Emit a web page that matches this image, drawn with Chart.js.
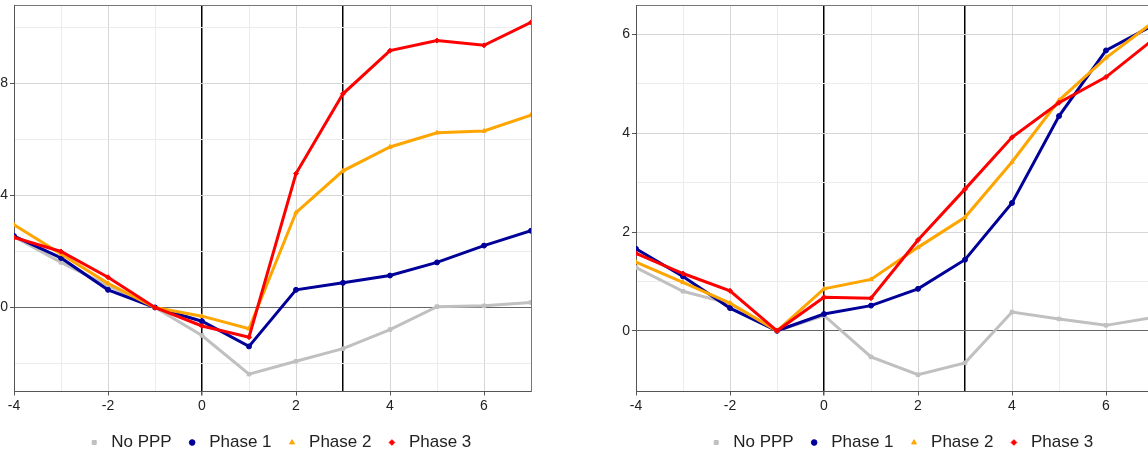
<!DOCTYPE html>
<html>
<head>
<meta charset="utf-8">
<script src="https://cdn.jsdelivr.net/npm/chart.js@4.4.1/dist/chart.umd.min.js"></script>
<style>
  html, body { margin: 0; padding: 0; background: #fff; overflow: hidden; width: 1148px; height: 454px; position: relative; }
  .panel { position: absolute; top: 0; width: 557px; height: 461px; }
  #left { left: 0; }
  #right { left: 622px; }
</style>
</head>
<body>
<div class="panel" id="left"><canvas id="chart-left"></canvas></div>
<div class="panel" id="right"><canvas id="chart-right"></canvas></div>
<script>
(function () {
  'use strict';

  // ============================================================
  //  Data
  // ============================================================
  var weeks = [-4, -3, -2, -1, 0, 1, 2, 3, 4, 5, 6, 7];
  var seriesNames = ['No PPP', 'Phase 1', 'Phase 2', 'Phase 3'];
  var eventWeeks = [0, 3];

  var leftNoPPP  = [2.52, 1.61, 0.78, 0, -1.00, -2.38, -1.92, -1.47, -0.79, 0.03, 0.06, 0.18];
  var leftPhase1 = [2.55, 1.77, 0.63, 0, -0.49, -1.39, 0.63, 0.88, 1.14, 1.61, 2.21, 2.74];
  var leftPhase2 = [2.95, 1.91, 0.86, 0, -0.31, -0.76, 3.39, 4.88, 5.73, 6.24, 6.30, 6.87];
  var leftPhase3 = [2.50, 2.00, 1.08, 0, -0.66, -1.06, 4.78, 7.63, 9.17, 9.53, 9.36, 10.18];

  var rightNoPPP  = [1.28, 0.80, 0.55, 0, 0.31, -0.53, -0.89, -0.65, 0.38, 0.24, 0.11, 0.27];
  var rightPhase1 = [1.66, 1.10, 0.46, 0, 0.34, 0.51, 0.85, 1.44, 2.59, 4.35, 5.68, 6.19];
  var rightPhase2 = [1.39, 0.98, 0.56, 0, 0.85, 1.04, 1.69, 2.30, 3.42, 4.67, 5.53, 6.25];
  var rightPhase3 = [1.57, 1.16, 0.81, 0, 0.68, 0.66, 1.84, 2.87, 3.92, 4.62, 5.14, 5.90];

  var colors = ['#c0c0c0', '#000099', '#ffa500', '#ff0000'];
  var pointStyles = ['rect', 'circle', 'triangle', 'rectRot'];

  Chart.defaults.font.family = '"Liberation Sans", Arial, sans-serif';
  Chart.defaults.color = '#222';

  function toPoints(values) {
    return weeks.map(function (w, i) { return { x: w, y: values[i] }; });
  }

  function isMult(v, step) {
    return Math.abs(v / step - Math.round(v / step)) < 1e-6;
  }

  function makePanel(canvasId, series, yMin, yMax, yStep, yMajor) {
    var datasets = series.map(function (values, i) {
      return {
        label: seriesNames[i],
        data: toPoints(values),
        borderColor: colors[i],
        backgroundColor: colors[i],
        pointStyle: pointStyles[i],
        pointRadius: 2.5,
        pointBorderWidth: 1,
        borderWidth: 3,
        tension: 0,
        order: series.length - i
      };
    });

    new Chart(document.getElementById(canvasId).getContext('2d'), {
      type: 'line',
      data: { datasets: datasets },
      options: {
        responsive: true, maintainAspectRatio: false, animation: false,
        layout: { padding: 0 },
        scales: {
          x: {
            type: 'linear', position: 'bottom', min: -4, max: 7,
            afterFit: function (s) { s.height = 30.5; s.paddingLeft = 0; s.paddingRight = 0; },
            ticks: {
              stepSize: 1, autoSkip: false, maxRotation: 0, padding: 2,
              font: { size: 14 }, color: '#222',
              callback: function (v) { return isMult(v, 2) ? v : ''; }
            },
            grid: {
              tickLength: 4,
              color: function (c) {
                var v = c.tick ? c.tick.value : 0;
                if (eventWeeks.indexOf(v) >= 0) return '#000';
                return isMult(v, 2) ? '#d6d6d6' : '#ececec';
              },
              lineWidth: function (c) {
                var v = c.tick ? c.tick.value : 0;
                return eventWeeks.indexOf(v) >= 0 ? 1.5 : 1;
              },
              tickColor: function (c) {
                var v = c.tick ? c.tick.value : 0;
                return isMult(v, 2) ? '#555' : 'rgba(0,0,0,0)';
              }
            },
            border: { color: '#555', width: 1 }
          },
          xTop: {
            type: 'linear', position: 'top', min: -4, max: 7, display: true,
            afterFit: function (s) { s.height = 4; s.paddingLeft = 0; s.paddingRight = 0; },
            ticks: { display: false },
            grid: { display: false, drawOnChartArea: false },
            border: { display: true, color: '#777', width: 1 }
          },
          y: {
            type: 'linear', position: 'left', min: yMin, max: yMax,
            afterFit: function (s) { s.width = 14; s.paddingTop = 0; s.paddingBottom = 0; },
            ticks: {
              stepSize: yStep, autoSkip: false, padding: 2,
              font: { size: 14 }, color: '#222',
              callback: function (v) { return isMult(v, yMajor) ? v : ''; }
            },
            grid: {
              tickLength: 4,
              color: function (c) {
                var v = c.tick ? c.tick.value : 1;
                if (Math.abs(v) < 1e-6) return '#666';
                return isMult(v, yMajor) ? '#d6d6d6' : '#ececec';
              },
              tickColor: function (c) {
                var v = c.tick ? c.tick.value : 1;
                return isMult(v, yMajor) ? '#555' : 'rgba(0,0,0,0)';
              }
            },
            border: { color: '#555', width: 1 }
          },
          yRight: {
            type: 'linear', position: 'right', display: true,
            afterFit: function (s) { s.width = 26; s.paddingTop = 0; s.paddingBottom = 0; },
            ticks: { display: false },
            grid: { display: false, drawOnChartArea: false },
            border: { display: true, color: '#777', width: 1 }
          }
        },
        plugins: {
          tooltip: { enabled: false },
          legend: {
            position: 'bottom',
            labels: {
              usePointStyle: true, boxWidth: 17, boxHeight: 4, padding: 12,
              color: '#222', font: { size: 17 },
              sort: function (a, b) { return a.datasetIndex - b.datasetIndex; }
            }
          }
        }
      }
    });
  }

  makePanel('chart-left', [leftNoPPP, leftPhase1, leftPhase2, leftPhase3], -3, 10.8, 2, 4);
  makePanel('chart-right', [rightNoPPP, rightPhase1, rightPhase2, rightPhase3], -1.23, 6.6, 1, 2);
})();
</script>
</body>
</html>
